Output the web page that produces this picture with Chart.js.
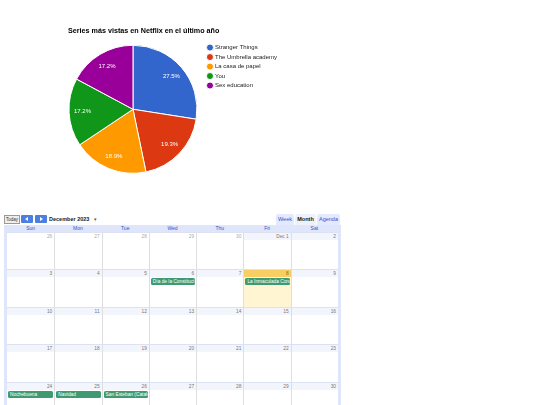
<!DOCTYPE html>
<html>
<head>
<meta charset="utf-8">
<script src="https://cdn.jsdelivr.net/npm/chart.js@4"></script>
<style>
    body {margin: 0; width: 540px; height: 405px; overflow: hidden; background: #fff; position: relative; font-family: Arial, "Liberation Sans", sans-serif;}
    #pie-box {position: absolute; left: 0; top: 0; width: 540px; height: 200px;}
    .btn-today {position: absolute; left: 4px; top: 215px; width: 14px; height: 7px; border: 1px solid #9a9a9a; background: #eee; font-size: 4.5px; line-height: 7px; text-align: center; color: #333;}
    .btn-nav {position: absolute; top: 215px; width: 12px; height: 8px; background: #4d7fe0; border-radius: 1px;}
    .btn-nav span {position: absolute; top: 2px; width: 0; height: 0; border-top: 2px solid transparent; border-bottom: 2px solid transparent;}
    .cal-title {position: absolute; left: 49px; top: 215px; font-size: 5.5px; font-weight: bold; color: #222; line-height: 8px;}
    .cal-drop {position: absolute; left: 94px; top: 215px; font-size: 5px; color: #555; line-height: 8px;}
    .tab {position: absolute; top: 214px; height: 11px; line-height: 11px; font-size: 5.5px; text-align: center; color: #3b4fc9; background: #e3e9ff; border-radius: 2px 2px 0 0;}
    .tab.on {color: #111; font-weight: bold; background: #eef1fc;}
    #cal {position: absolute; left: 4px; top: 225px; width: 337px; height: 190px; background: #dfe6fb;}
    .dayname {position: absolute; top: 0; height: 7px; line-height: 7px; font-size: 5px; color: #3b4fc9; text-align: center;}
    .week {position: absolute; left: 3px; width: 331px; background: #fff; border-top: 1px solid #dde2f2;}
    .cell {position: absolute; top: 0; bottom: 0; border-left: 1px solid #dedede; box-sizing: border-box;}
    .cell:first-child {border-left: none;}
    .strip {height: 7px; line-height: 7px; font-size: 4.8px; text-align: right; padding-right: 2px; color: #777;}
    .in .strip {background: #f3f5fd;}
    .out .strip {color: #aaa;}
    .today {background: #fff5d3;}
    .today .strip {background: #f6ce63; color: #8a6a10;}
    .chip {margin: 1px 1px 0 1px; height: 7px; line-height: 7px; font-size: 4.8px; color: #fff; background: #3f9a72; border-radius: 1.5px; padding-left: 2px; white-space: nowrap; overflow: hidden;}
</style>
</head>
<body>
<div id="pie-box"><canvas id="series-pie"></canvas></div>

<div class="btn-today">Today</div>
<div class="btn-nav" style="left: 21px;"><span style="left: 4px; border-right: 3px solid #fff;"></span></div>
<div class="btn-nav" style="left: 35px;"><span style="left: 5px; border-left: 3px solid #fff;"></span></div>
<div class="cal-title" id="cal-title"></div>
<div class="cal-drop">&#9662;</div>
<div class="tab" style="left: 276px; width: 18px;">Week</div>
<div class="tab on" style="left: 295px; width: 21px;">Month</div>
<div class="tab" style="left: 317px; width: 23px;">Agenda</div>
<div id="cal"></div>

<script>
const chartTitle = 'Series más vistas en Netflix en el último año'
const seriesNames = ['Stranger Things', 'The Umbrella academy', 'La casa de papel', 'You', 'Sex education']
const seriesShares = [27.5, 19.3, 18.9, 17.2, 17.2]
const seriesColors = ['#3366cc', '#dc3912', '#ff9900', '#109618', '#990099']

const weekDayNames = ['Sun', 'Mon', 'Tue', 'Wed', 'Thu', 'Fri', 'Sat']
const monthTitle = 'December 2023'
const eventDates = ['2023-12-06', '2023-12-08', '2023-12-24', '2023-12-25', '2023-12-26']
const eventTitles = ['Día de la Constitución', 'La Inmaculada Concepción', 'Nochebuena', 'Navidad', 'San Esteban (Cataluña)']
const todayDate = '2023-12-08'

// percentages written inside the slices
const sliceLabels = {
    id: 'sliceLabels',
    afterDatasetsDraw(chart) {
        const {ctx} = chart
        const data = chart.data.datasets[0].data
        const total = data.reduce((t, v) => t + v, 0)
        chart.getDatasetMeta(0).data.forEach((arc, i) => {
            const {x, y, startAngle, endAngle, outerRadius} = arc.getProps(['x', 'y', 'startAngle', 'endAngle', 'outerRadius'], true)
            const mid = (startAngle + endAngle) / 2
            const r = outerRadius * 0.79
            ctx.save()
            ctx.fillStyle = '#fff'
            ctx.font = '6px Arial'
            ctx.textAlign = 'center'
            ctx.textBaseline = 'middle'
            ctx.fillText((data[i] / total * 100).toFixed(1) + '%', x + Math.cos(mid) * r, y + Math.sin(mid) * r)
            ctx.restore()
        })
    }
}

// leave a small gap between the pie and the legend
const legendGap = {
    id: 'legendGap',
    afterLayout(chart) {
        chart.legend.left += 6.5
        chart.legend.right += 6.5
    }
}

const seriesPie = new Chart(document.getElementById('series-pie'), {
    type: 'pie',
    data: {
        labels: seriesNames,
        datasets: [{
            data: seriesShares,
            backgroundColor: seriesColors,
            borderColor: '#fff',
            borderWidth: 1,
            radius: 64
        }]
    },
    options: {
        responsive: true,
        maintainAspectRatio: false,
        animation: false,
        layout: {padding: {left: 68, right: 259.5, top: 0, bottom: 22.5}},
        plugins: {
            title: {
                display: true,
                text: chartTitle,
                align: 'start',
                color: '#000',
                font: {family: 'Arial', size: 7.2, weight: 'bold'},
                padding: {top: 26.7, bottom: 5.7}
            },
            legend: {
                position: 'right',
                align: 'start',
                fullSize: false,
                labels: {
                    usePointStyle: true,
                    pointStyle: 'circle',
                    boxWidth: 4,
                    boxHeight: 5,
                    padding: 3.5,
                    color: '#222',
                    font: {family: 'Arial', size: 6}
                }
            },
            tooltip: {enabled: false}
        }
    },
    plugins: [sliceLabels, legendGap]
})

// month grid
document.getElementById('cal-title').textContent = monthTitle
const cal = document.getElementById('cal')
const colWidth = 331 / 7
const rowHeight = 37.4

weekDayNames.forEach((name, i) => {
    const d = document.createElement('div')
    d.className = 'dayname'
    d.style.left = (3 + i * colWidth) + 'px'
    d.style.width = colWidth + 'px'
    d.textContent = name
    cal.appendChild(d)
})

const monthNames = ['Jan', 'Feb', 'Mar', 'Apr', 'May', 'Jun', 'Jul', 'Aug', 'Sep', 'Oct', 'Nov', 'Dec']
const firstShown = new Date(2023, 10, 26)
for (let w = 0; w < 6; w++) {
    const week = document.createElement('div')
    week.className = 'week'
    week.style.top = (7 + w * rowHeight) + 'px'
    week.style.height = rowHeight + 'px'
    for (let d = 0; d < 7; d++) {
        const day = new Date(firstShown)
        day.setDate(firstShown.getDate() + w * 7 + d)
        const key = day.getFullYear() + '-' + String(day.getMonth() + 1).padStart(2, '0') + '-' + String(day.getDate()).padStart(2, '0')
        const cell = document.createElement('div')
        cell.className = 'cell ' + (day.getMonth() === 11 ? 'in' : 'out') + (key === todayDate ? ' today' : '')
        cell.style.left = (d * colWidth) + 'px'
        cell.style.width = colWidth + 'px'
        const strip = document.createElement('div')
        strip.className = 'strip'
        strip.textContent = day.getDate() === 1 ? monthNames[day.getMonth()] + ' 1' : day.getDate()
        cell.appendChild(strip)
        eventDates.forEach((ev, i) => {
            if (ev === key) {
                const chip = document.createElement('div')
                chip.className = 'chip'
                chip.textContent = eventTitles[i]
                cell.appendChild(chip)
            }
        })
        week.appendChild(cell)
    }
    cal.appendChild(week)
}
</script>
</body>
</html>
